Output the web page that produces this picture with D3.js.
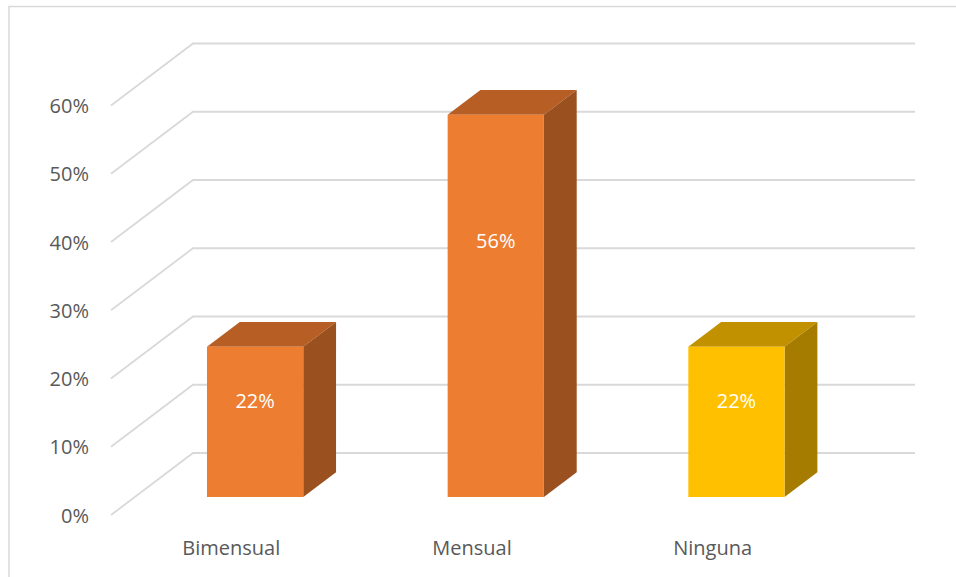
<!DOCTYPE html>
<html>
<head>
<meta charset="utf-8">
<script src="https://cdn.jsdelivr.net/npm/d3@7"></script>
<style>
  html, body { margin: 0; padding: 0; background: #fff; }
  svg { display: block; font-family: "Open Sans", "Noto Sans", sans-serif; }
</style>
</head>
<body>
<svg id="chart" width="956" height="577"></svg>
<script>
// Chart data
const categories = ["Bimensual", "Mensual", "Ninguna"];
const values = [0.22, 0.56, 0.22];
const valueLabels = ["22%", "56%", "22%"];
const yTicks = [0, 0.1, 0.2, 0.3, 0.4, 0.5, 0.6];
const yTickLabels = ["0%", "10%", "20%", "30%", "40%", "50%", "60%"];

// Face colours per bar: front, top, side
const frontColors = ["#ED7D31", "#ED7D31", "#FFC000"];
const topColors = ["#B65E23", "#B65E23", "#C29100"];
const sideColors = ["#9A501F", "#9A501F", "#A67C00"];

const svg = d3.select("#chart");

// Outer frame
svg.append("rect")
  .attr("x", 9).attr("y", 6.5)
  .attr("width", 960).attr("height", 600)
  .attr("fill", "none").attr("stroke", "#d9d9d9").attr("stroke-width", 1.5);

// Oblique 3D projection: front plane scales + depth offset
const x = d3.scaleBand().domain(categories).range([111, 833])
  .paddingInner(0.6).paddingOuter(0.3);
const y = d3.scaleLinear().domain([0, 0.6]).range([515, 105.5]);
const depthX = 82, depthY = 62;
function proj(px, v, d) {
  return [px + d * depthX, y(v) - d * depthY];
}

// Gridlines: side wall diagonal + back wall horizontal
const grid = svg.append("g").attr("fill", "none")
  .attr("stroke", "#d9d9d9").attr("stroke-width", 1.8);
const xl = x.range()[0], xr = x.range()[1];
yTicks.forEach(v => {
  const a = proj(xl, v, 0), b = proj(xl, v, 1), c = proj(xr, v, 1);
  grid.append("path").attr("d", d3.line()([a, b, c]));
});

// Y tick labels
svg.append("g").selectAll("text").data(yTicks).join("text")
  .attr("x", 89).attr("y", d => y(d))
  .attr("text-anchor", "end").attr("dominant-baseline", "central")
  .attr("font-size", 20).attr("fill", "#595959")
  .text((d, i) => yTickLabels[i]);

// Bars as prisms
const d0 = 0.29, d1 = 0.69;
const bars = svg.append("g");
categories.forEach((cat, i) => {
  const v = values[i];
  const x0 = x(cat), x1 = x(cat) + x.bandwidth();
  const base = y(0), top = y(v);
  const f = (px, py, d) => [px + d * depthX, py - d * depthY];
  const frontBL = f(x0, base, d0), frontBR = f(x1, base, d0);
  const frontTL = f(x0, top, d0), frontTR = f(x1, top, d0);
  const backTL = f(x0, top, d1), backTR = f(x1, top, d1), backBR = f(x1, base, d1);
  const line = d3.line();
  const g = bars.append("g");
  g.append("path").attr("d", line([frontTL, backTL, backTR, frontTR]) + "Z")
    .attr("fill", topColors[i]);
  g.append("path").attr("d", line([frontTR, backTR, backBR, frontBR]) + "Z")
    .attr("fill", sideColors[i]);
  g.append("path").attr("d", line([frontBL, frontTL, frontTR, frontBR]) + "Z")
    .attr("fill", frontColors[i]);
  const h = frontBL[1] - frontTL[1];
  g.append("text")
    .attr("x", (frontBL[0] + frontBR[0]) / 2)
    .attr("y", frontBL[1] - 0.686 * h + 6)
    .attr("text-anchor", "middle").attr("dominant-baseline", "central")
    .attr("font-size", 20).attr("fill", "#ffffff")
    .text(valueLabels[i]);
});

// Category labels
svg.append("g").selectAll("text").data(categories).join("text")
  .attr("x", d => x(d) + x.bandwidth() / 2)
  .attr("y", 547)
  .attr("text-anchor", "middle").attr("dominant-baseline", "central")
  .attr("font-size", 20).attr("fill", "#595959")
  .text(d => d);
</script>
</body>
</html>
